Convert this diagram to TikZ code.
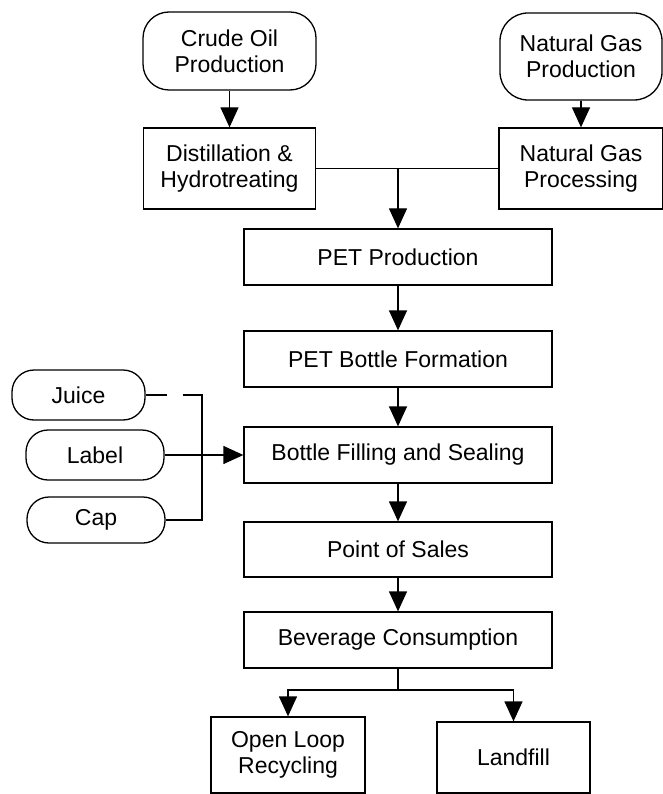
\documentclass[tikz,border=0pt]{standalone}
\usepackage{fontspec}
\setmainfont{Liberation Sans}
\usetikzlibrary{arrows.meta}
\begin{document}
\begin{tikzpicture}[x=1pt,y=-1pt,
  every node/.style={font=\fontsize{23}{26}\selectfont, align=center, inner sep=0pt},
  procbox/.style={draw, line width=1.3pt, rectangle},
  srcbox/.style={draw, line width=1.3pt, rounded corners=22pt},
  link/.style={line width=1.3pt},
  flow/.style={line width=1.3pt, -{Triangle[length=20pt,width=18pt]}}]

\useasboundingbox (0,0) rectangle (663,794);

% raw material sources
\node[srcbox, rounded corners=26pt, minimum width=173pt, minimum height=78pt] (crude) at (229.5,51) {Crude Oil\\Production};
\node[srcbox, rounded corners=28pt, minimum width=162pt, minimum height=87pt] (ngprod) at (581,56.5) {Natural Gas\\Production};

% primary processing
\node[procbox, minimum width=172pt, minimum height=81pt] (dist) at (229.5,168.5) {Distillation \&\\Hydrotreating};
\node[procbox, minimum width=164pt, minimum height=81pt] (ngproc) at (581,168.5) {Natural Gas\\Processing};

% main production chain
\node[procbox, minimum width=308pt, minimum height=56pt] (pet) at (398,257) {PET Production};
\node[procbox, minimum width=308pt, minimum height=56pt] (form) at (398,359) {PET Bottle Formation};
\node[procbox, minimum width=308pt, minimum height=56pt] (fill) at (398,455) {Bottle Filling and Sealing};
\node[procbox, minimum width=308pt, minimum height=55pt] (pos) at (398,549.5) {Point of Sales};
\node[procbox, minimum width=308pt, minimum height=56pt] (bev) at (398,640) {Beverage Consumption};

% end of life
\node[procbox, minimum width=154pt, minimum height=76pt] (olr) at (288,755) {Open Loop\\Recycling};
\node[procbox, minimum width=153pt, minimum height=71pt] (land) at (513.5,757.5) {Landfill};

% additional inputs to filling
\node[srcbox, minimum width=133pt, minimum height=50pt] (juice) at (78.5,395) {Juice};
\node[srcbox, minimum width=138pt, minimum height=50pt] (label) at (95,455) {Label};
\node[srcbox, minimum width=138pt, minimum height=46pt] (cap) at (96,520) {Cap};

% connectors
\draw[flow] (crude.south) -- (dist.north);
\draw[flow] (ngprod.south) -- (ngproc.north);
\draw[link] (dist.east) -- (ngproc.west);
\coordinate (join) at (398,168.5);
\draw[flow] (join) -- (pet.north);
\draw[flow] (pet.south) -- (form.north);
\draw[flow] (form.south) -- (fill.north);
\draw[flow] (fill.south) -- (pos.north);
\draw[flow] (pos.south) -- (bev.north);

\coordinate (split) at (398,690);
\draw[link] (bev.south) -- (split);
\draw[flow] (split) -| (olr.north);
\draw[flow] (split) -| (land.north);

\coordinate (bus) at (202,455);
\draw[link, dash pattern=on 21pt off 16pt on 400pt] (juice.east) -| (bus);
\draw[link] (cap.east) -| (bus);
\draw[flow] (label.east) -- (fill.west);
\end{tikzpicture}
\end{document}
